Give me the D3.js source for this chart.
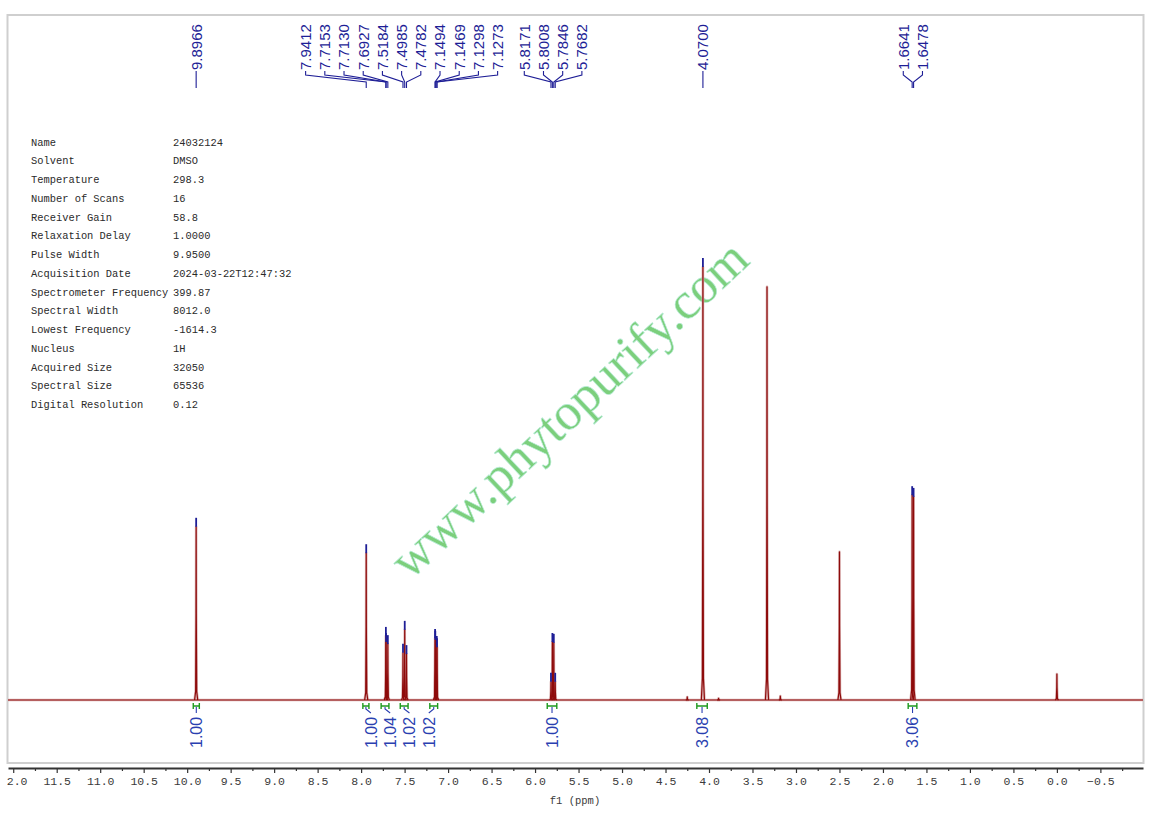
<!DOCTYPE html>
<html>
<head>
<meta charset="utf-8">
<script src="https://cdn.jsdelivr.net/npm/d3@7"></script>
<style>
  html, body { margin: 0; padding: 0; background: #fff; }
  svg { display: block; }
</style>
</head>
<body>
<svg id="chart" width="1157" height="816"></svg>
<script>
// ---------------- DATA ----------------
// picked peaks (ppm) and their heights (relative, 4.0700 = 100)
const peakPpm    = [9.8966, 7.9412, 7.7153, 7.7130, 7.6927, 7.5184, 7.4985, 7.4782,
                    7.1494, 7.1469, 7.1298, 7.1273, 5.8171, 5.8008, 5.7846, 5.7682,
                    4.0700, 1.6641, 1.6478];
const peakHeight = [40.0, 33.9, 14.8, 13.4, 12.9, 10.9, 16.2, 10.6,
                    14.3, 13.9, 12.7, 12.2, 4.2, 13.4, 13.2, 4.2,
                    100, 47.3, 46.9];
// un-labelled signals (water, DMSO, TMS, small impurities)
const otherPpm    = [4.25, 3.89, 3.333, 3.18, 2.50, 0.00];
const otherHeight = [0.7, 0.4, 95.4, 0.9, 34.2, 6.0];

// integrals
const intFrom  = [9.93, 7.98, 7.77, 7.55, 7.21, 5.86, 4.14, 1.71];
const intTo    = [9.86, 7.91, 7.68, 7.46, 7.12, 5.75, 4.02, 1.61];
const intValue = ["1.00", "1.00", "1.04", "1.02", "1.02", "1.00", "3.08", "3.06"];

// axis ticks
const tickMajor = [12.0, 11.5, 11.0, 10.5, 10.0, 9.5, 9.0, 8.5, 8.0, 7.5, 7.0, 6.5, 6.0,
                   5.5, 5.0, 4.5, 4.0, 3.5, 3.0, 2.5, 2.0, 1.5, 1.0, 0.5, 0.0, -0.5];
const tickMinor = [11.75, 11.25, 10.75, 10.25, 9.75, 9.25, 8.75, 8.25, 7.75, 7.25, 6.75,
                   6.25, 5.75, 5.25, 4.75, 4.25, 3.75, 3.25, 2.75, 2.25, 1.75, 1.25,
                   0.75, 0.25, -0.25, -0.75];

// acquisition parameters
const paramNames  = ["Name", "Solvent", "Temperature", "Number of Scans", "Receiver Gain",
                     "Relaxation Delay", "Pulse Width", "Acquisition Date",
                     "Spectrometer Frequency", "Spectral Width", "Lowest Frequency",
                     "Nucleus", "Acquired Size", "Spectral Size", "Digital Resolution"];
const paramValues = ["24032124", "DMSO", "298.3", "16", "58.8", "1.0000", "9.9500",
                     "2024-03-22T12:47:32", "399.87", "8012.0", "-1614.3", "1H",
                     "32050", "65536", "0.12"];

const watermark = "www.phytopurify.com";
const axisTitle = "f1 (ppm)";

// ---------------- DRAWING ----------------
const svg = d3.select("#chart");
const x = d3.scaleLinear().domain([12.06, -0.99]).range([8, 1143]);
const y = d3.scaleLinear().domain([0, 100]).range([700, 267]);

const RED = "#8e0b0b", PINK = "#dcb5b5", BLUE = "#1e1e96", IBLUE = "#2a3fb0", GREEN = "#1f9a1f";

// frame
svg.append("rect").attr("x", 7.5).attr("y", 15).attr("width", 1136).attr("height", 748)
  .attr("fill", "none").attr("stroke", "#cfcfcf").attr("stroke-width", 2);

// parameter table
const tbl = svg.append("g").attr("font-family", "'Liberation Mono', 'DejaVu Sans Mono', monospace")
  .attr("font-size", 10.4).attr("fill", "#2a2a2a");
paramNames.forEach((n, i) => {
  tbl.append("text").attr("x", 31).attr("y", 145.5 + i * 18.75).text(n);
  tbl.append("text").attr("x", 173).attr("y", 145.5 + i * 18.75).text(paramValues[i]);
});

// watermark
svg.append("text")
  .attr("transform", "translate(410,581) rotate(-43)")
  .attr("font-family", "'Liberation Serif', 'DejaVu Serif', serif")
  .attr("font-size", 52)
  .attr("fill", "#7ccf7c")
  .attr("stroke", "#b9ecd9").attr("stroke-width", 0.6)
  .text(watermark);

// spectrum
const line = d3.line().x(d => x(d[0])).y(d => y(d[1]));
function peakShape(p, h) {
  return [[p + 0.018, 0], [p + 0.006, h * 0.05], [p + 0.0015, h * 0.5], [p, h],
          [p - 0.0015, h * 0.5], [p - 0.006, h * 0.05], [p - 0.018, 0]];
}
const allPeaks = peakPpm.map((p, i) => [p, peakHeight[i]])
  .concat(otherPpm.map((p, i) => [p, otherHeight[i]]));
const spec = svg.append("g");
const baseline = [[x.domain()[0], 0], [x.domain()[1], 0]];
spec.append("path").attr("d", line(baseline)).attr("fill", "none")
  .attr("stroke", PINK).attr("stroke-width", 2.6);
allPeaks.forEach(pk => {
  spec.append("path").attr("d", line(peakShape(pk[0], pk[1]))).attr("fill", "none")
    .attr("stroke", PINK).attr("stroke-width", 2.6).attr("stroke-linejoin", "round");
});
spec.append("path").attr("d", line(baseline)).attr("fill", "none")
  .attr("stroke", RED).attr("stroke-width", 1.2);
allPeaks.forEach(pk => {
  spec.append("path").attr("d", line(peakShape(pk[0], pk[1]))).attr("fill", "none")
    .attr("stroke", RED).attr("stroke-width", 1.2).attr("stroke-linejoin", "round");
});
// peak top markers
peakPpm.forEach((p, i) => {
  spec.append("line").attr("x1", x(p)).attr("x2", x(p))
    .attr("y1", y(peakHeight[i]) - 9).attr("y2", y(peakHeight[i]))
    .attr("stroke", BLUE).attr("stroke-width", 1.8);
});

// label spreading: clusters of close marks, centred on cluster mid-range
function spread(xs, spacing, gapThresh) {
  const idx = xs.map((v, i) => i).sort((a, b) => xs[a] - xs[b]);
  const out = new Array(xs.length);
  let group = [idx[0]];
  const flush = g => {
    const vals = g.map(i => xs[i]);
    const c = (d3.min(vals) + d3.max(vals)) / 2;
    g.forEach((i, k) => { out[i] = c + (k - (g.length - 1) / 2) * spacing; });
  };
  for (let k = 1; k < idx.length; k++) {
    if (xs[idx[k]] - xs[idx[k - 1]] < gapThresh) group.push(idx[k]);
    else { flush(group); group = [idx[k]]; }
  }
  flush(group);
  return out;
}

// peak labels
const peakX = peakPpm.map(p => x(p));
const labX = spread(peakX, 19.2, 40);
const pl = svg.append("g");
peakPpm.forEach((p, i) => {
  pl.append("text")
    .attr("transform", `translate(${labX[i]},70) rotate(-90)`)
    .attr("dy", "0.36em")
    .attr("font-family", "'Liberation Sans', Arial, sans-serif")
    .attr("font-size", 15).attr("fill", BLUE)
    .text(d3.format(".4f")(p));
  pl.append("path")
    .attr("d", `M${labX[i]},71 L${labX[i]},75 L${peakX[i]},82 L${peakX[i]},88`)
    .attr("fill", "none").attr("stroke", BLUE).attr("stroke-width", 1.1);
});

// integrals
const intC = intFrom.map((f, i) => (x(f) + x(intTo[i])) / 2);
const intLabX = spread(intC, 19.3, 40);
const ig = svg.append("g");
intFrom.forEach((f, i) => {
  const x1 = x(f), x2 = x(intTo[i]);
  ig.append("path")
    .attr("d", `M${x1},703 L${x1},709 M${x1},706 L${x2},706 M${x2},703 L${x2},709`)
    .attr("fill", "none").attr("stroke", GREEN).attr("stroke-width", 1.4);
  ig.append("path")
    .attr("d", `M${intC[i]},707 L${intC[i]},709 L${intLabX[i]},713`)
    .attr("fill", "none").attr("stroke", IBLUE).attr("stroke-width", 1.1);
  ig.append("text")
    .attr("transform", `translate(${intLabX[i]},748) rotate(-90)`)
    .attr("dy", "0.36em")
    .attr("font-family", "'Liberation Sans', Arial, sans-serif")
    .attr("font-size", 16).attr("fill", IBLUE)
    .text(intValue[i]);
});

// x axis (tick labels clipped at the left frame edge, as in the reference)
svg.append("clipPath").attr("id", "axclip").append("rect")
  .attr("x", 7).attr("y", -10).attr("width", 1150).attr("height", 60);
const ax = svg.append("g").attr("transform", "translate(0,768)").attr("clip-path", "url(#axclip)")
  .call(d3.axisBottom(x).tickValues(tickMajor).tickFormat(d3.format(".1f"))
        .tickSize(5).tickSizeOuter(0).tickPadding(4));
ax.select(".domain").attr("stroke", "#333").attr("stroke-width", 2);
ax.selectAll(".tick line").attr("stroke", "#333").attr("stroke-width", 1.2);
ax.selectAll(".tick text").attr("font-family", "'Liberation Mono', 'DejaVu Sans Mono', monospace")
  .attr("font-size", 11.5).attr("fill", "#3a3a3a");
const axm = svg.append("g").attr("transform", "translate(0,768)")
  .call(d3.axisBottom(x).tickValues(tickMinor).tickFormat("").tickSize(3).tickSizeOuter(0));
axm.select(".domain").remove();
axm.selectAll(".tick line").attr("stroke", "#333").attr("stroke-width", 1.2);

svg.append("text").attr("x", 575).attr("y", 804).attr("text-anchor", "middle")
  .attr("font-family", "'Liberation Mono', 'DejaVu Sans Mono', monospace")
  .attr("font-size", 10.5).attr("fill", "#3a3a3a").text(axisTitle);
</script>
</body>
</html>
